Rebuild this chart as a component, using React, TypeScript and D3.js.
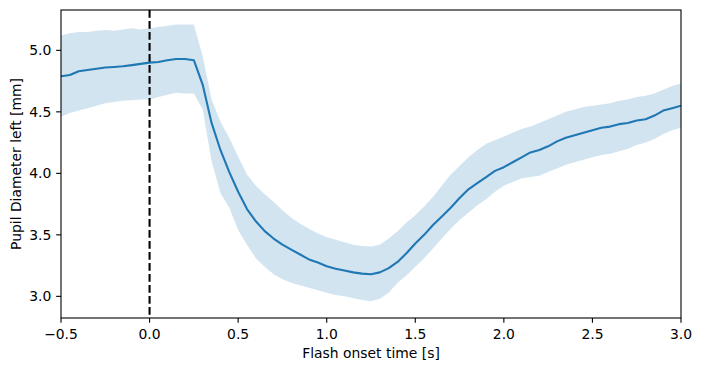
import React from 'react';
import * as d3 from 'd3';

// time axis, seconds from flash onset (step 0.05 s)
const times = [
  -0.5, -0.45, -0.4, -0.35, -0.3, -0.25, -0.2, -0.15, -0.1, -0.05,
  0.0, 0.05, 0.1, 0.15, 0.2, 0.25, 0.3, 0.35, 0.4, 0.45,
  0.5, 0.55, 0.6, 0.65, 0.7, 0.75, 0.8, 0.85, 0.9, 0.95,
  1.0, 1.05, 1.1, 1.15, 1.2, 1.25, 1.3, 1.35, 1.4, 1.45,
  1.5, 1.55, 1.6, 1.65, 1.7, 1.75, 1.8, 1.85, 1.9, 1.95,
  2.0, 2.05, 2.1, 2.15, 2.2, 2.25, 2.3, 2.35, 2.4, 2.45,
  2.5, 2.55, 2.6, 2.65, 2.7, 2.75, 2.8, 2.85, 2.9, 2.95, 3.0,
];

// mean pupil diameter [mm]
const meanDiam = [
  4.79, 4.80, 4.83, 4.84, 4.85, 4.86, 4.865, 4.87, 4.88, 4.89,
  4.90, 4.905, 4.92, 4.93, 4.93, 4.92, 4.72, 4.41, 4.19, 4.01,
  3.85, 3.71, 3.61, 3.53, 3.47, 3.42, 3.38, 3.34, 3.30, 3.275,
  3.245, 3.225, 3.21, 3.195, 3.185, 3.18, 3.195, 3.23, 3.28, 3.35,
  3.43, 3.50, 3.58, 3.65, 3.72, 3.80, 3.87, 3.92, 3.97, 4.02,
  4.05, 4.09, 4.13, 4.17, 4.19, 4.22, 4.26, 4.29, 4.31, 4.33,
  4.35, 4.37, 4.38, 4.40, 4.41, 4.43, 4.44, 4.47, 4.51, 4.53, 4.55,
];

// upper edge of the shaded band
const upperDiam = [
  5.12, 5.14, 5.15, 5.15, 5.16, 5.165, 5.16, 5.17, 5.18, 5.17,
  5.18, 5.19, 5.20, 5.21, 5.21, 5.21, 4.95, 4.60, 4.42, 4.29,
  4.135, 3.99, 3.90, 3.83, 3.77, 3.70, 3.64, 3.59, 3.55, 3.51,
  3.48, 3.46, 3.44, 3.42, 3.41, 3.405, 3.42, 3.47, 3.53, 3.60,
  3.66, 3.73, 3.81, 3.90, 3.99, 4.06, 4.13, 4.19, 4.24, 4.27,
  4.30, 4.33, 4.36, 4.38, 4.41, 4.44, 4.47, 4.50, 4.52, 4.54,
  4.55, 4.56, 4.57, 4.59, 4.60, 4.62, 4.63, 4.65, 4.68, 4.71, 4.73,
];

// lower edge of the shaded band
const lowerDiam = [
  4.46, 4.49, 4.51, 4.53, 4.55, 4.57, 4.58, 4.59, 4.595, 4.60,
  4.60, 4.62, 4.64, 4.655, 4.65, 4.65, 4.52, 4.10, 3.84, 3.72,
  3.54, 3.42, 3.31, 3.24, 3.18, 3.14, 3.11, 3.09, 3.07, 3.05,
  3.03, 3.01, 3.00, 2.985, 2.97, 2.96, 2.98, 3.03, 3.11, 3.17,
  3.24, 3.31, 3.39, 3.47, 3.55, 3.62, 3.68, 3.74, 3.79, 3.85,
  3.90, 3.93, 3.96, 3.97, 3.98, 4.01, 4.04, 4.07, 4.09, 4.11,
  4.13, 4.15, 4.16, 4.18, 4.20, 4.23, 4.25, 4.28, 4.32, 4.35, 4.37,
];

const xTicks = [-0.5, 0.0, 0.5, 1.0, 1.5, 2.0, 2.5, 3.0];
const yTicks = [3.0, 3.5, 4.0, 4.5, 5.0];

const W = 702, H = 371;
const left = 61, right = 681, top = 10, bottom = 318;
const font = 'DejaVu Sans, sans-serif';
const fs = 13.9;

export default function App() {
  const x = d3.scaleLinear().domain([-0.5, 3.0]).range([left, right]);
  const y = d3.scaleLinear().domain([2.824, 5.328]).range([bottom, top]);

  const rows = times.map((t, i) => ({ t, m: meanDiam[i], lo: lowerDiam[i], hi: upperDiam[i] }));

  const band = d3.area<any>()
    .x(d => x(d.t))
    .y0(d => y(d.lo))
    .y1(d => y(d.hi));
  const line = d3.line<any>()
    .x(d => x(d.t))
    .y(d => y(d.m));

  return (
    <svg width={W} height={H} style={{ position: 'absolute', left: 0, top: 0, background: '#fff' }}>
      <defs>
        <clipPath id="plot">
          <rect x={left} y={top} width={right - left} height={bottom - top} />
        </clipPath>
      </defs>
      <g clipPath="url(#plot)">
        <path d={band(rows) || ''} fill="#1f77b4" fillOpacity={0.2} stroke="none" />
        <path d={line(rows) || ''} fill="none" stroke="#1f77b4" strokeWidth={2.08} strokeLinejoin="round" />
        <line x1={x(0)} x2={x(0)} y1={top} y2={bottom} stroke="#000" strokeWidth={2.08} strokeDasharray="7.7,3.3" />
      </g>
      <rect x={left} y={top} width={right - left} height={bottom - top} fill="none" stroke="#000" strokeWidth={1.1} />

      {xTicks.map(t => (
        <g key={'x' + t}>
          <line x1={x(t)} x2={x(t)} y1={bottom} y2={bottom + 4.86} stroke="#000" strokeWidth={1.1} />
          <text x={x(t)} y={bottom + 21} textAnchor="middle" fontFamily={font} fontSize={fs} fill="#000">
            {d3.format('.1f')(t).replace('-', '\u2212')}
          </text>
        </g>
      ))}
      {yTicks.map(v => (
        <g key={'y' + v}>
          <line x1={left - 4.86} x2={left} y1={y(v)} y2={y(v)} stroke="#000" strokeWidth={1.1} />
          <text x={left - 9.7} y={y(v) + 5} textAnchor="end" fontFamily={font} fontSize={fs} fill="#000">
            {d3.format('.1f')(v)}
          </text>
        </g>
      ))}

      <text x={(left + right) / 2} y={358} textAnchor="middle" fontFamily={font} fontSize={fs} fill="#000">
        Flash onset time [s]
      </text>
      <text transform={`translate(21,${(top + bottom) / 2}) rotate(-90)`} textAnchor="middle" fontFamily={font} fontSize={fs} fill="#000">
        Pupil Diameter left [mm]
      </text>
    </svg>
  );
}
